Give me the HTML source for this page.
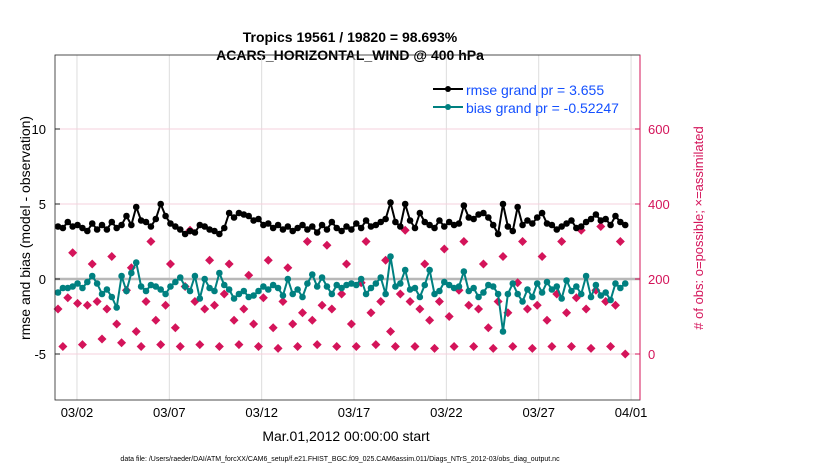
<!DOCTYPE html>
<html><head><meta charset="utf-8"><style>
body{margin:0;background:#fff;width:830px;height:470px;overflow:hidden;font-family:"Liberation Sans",sans-serif}
svg{display:block}
</style></head><body>
<svg id="chart" width="830" height="470" xmlns="http://www.w3.org/2000/svg" font-family="Liberation Sans, sans-serif">
<text x="350" y="42" text-anchor="middle" font-size="14" font-weight="bold">Tropics 19561 / 19820 = 98.693%</text>
<text x="350" y="60" text-anchor="middle" font-size="14" font-weight="bold">ACARS_HORIZONTAL_WIND @ 400 hPa</text>
<g id="grid"></g>
<g id="marks"></g>
<rect x="55" y="55" width="585" height="345" fill="none" stroke="#222" stroke-width="0.8"/>
<g id="axes"></g>
<text transform="translate(30,228) rotate(-90)" text-anchor="middle" font-size="14">rmse and bias (model - observation)</text>
<text transform="translate(703,228) rotate(-90)" text-anchor="middle" font-size="13" fill="#d4145a"># of obs: o=possible; ×=assimilated</text>
<text x="346" y="441" text-anchor="middle" font-size="14">Mar.01,2012 00:00:00 start</text>
<text x="340" y="461" text-anchor="middle" font-size="7">data file: /Users/raeder/DAI/ATM_forcXX/CAM6_setup/f.e21.FHIST_BGC.f09_025.CAM6assim.011/Diags_NTrS_2012-03/obs_diag_output.nc</text>
<g>
<line x1="433" y1="89" x2="463" y2="89" stroke="#000" stroke-width="2"/><circle cx="448" cy="89" r="3" fill="#000"/>
<text x="466" y="95" font-size="14" fill="#1450ff">rmse grand pr = 3.655</text>
<line x1="433" y1="107" x2="463" y2="107" stroke="#008080" stroke-width="2"/><circle cx="448" cy="107" r="3" fill="#008080"/>
<text x="466" y="113" font-size="14" fill="#1450ff">bias grand pr = -0.52247</text>
</g>
</svg>
<script>
const xTickLabels=["03/02","03/07","03/12","03/17","03/22","03/27","04/01"];
const xTickDays=[1,6,11,16,21,26,31];
const leftTicks=[-5,0,5,10];
const rightTicks=[0,200,400,600];
const rmse=[3.5,3.4,3.8,3.5,3.6,3.4,3.2,3.7,3.3,3.6,
3.3,3.8,3.4,3.6,4.2,3.6,4.8,3.9,3.8,3.5,
4.0,5.0,4.2,3.7,3.5,3.3,3.0,3.2,3.1,3.6,
3.5,3.3,3.2,3.0,3.4,4.4,4.1,4.4,4.3,4.2,
3.9,4.0,3.6,3.7,3.4,3.6,3.3,3.5,3.2,3.4,
3.6,3.3,3.5,3.1,3.6,3.3,3.8,3.4,3.2,3.5,
3.3,3.7,3.4,3.9,3.5,3.6,3.8,4.0,5.1,3.8,
3.5,5.0,3.9,3.4,4.4,3.8,3.6,3.4,3.9,3.5,
3.8,3.6,3.7,4.9,4.1,4.0,4.3,4.4,4.1,3.6,
3.0,5.0,3.5,3.2,4.8,3.6,3.9,3.7,4.1,4.4,
3.7,3.6,3.3,3.5,3.7,3.9,3.4,3.5,3.8,4.0,
4.3,3.9,4.0,3.6,4.2,3.8,3.6];
const bias=[-0.9,-0.6,-0.6,-0.5,-0.3,-0.6,-0.2,0.2,-0.3,-1.0,
-0.7,-1.2,-1.9,0.2,-0.8,0.4,1.1,-0.5,-0.8,-0.4,
-0.5,-0.7,-1.0,-0.5,-0.2,0.1,-0.5,-0.8,0.2,-1.3,
0.0,-0.6,-0.8,0.4,-0.4,-0.7,-1.3,-1.0,-0.8,-1.2,
-1.1,-0.8,-0.5,-0.7,-0.4,-0.6,-1.1,0.0,-1.0,-0.7,
-1.2,-0.3,0.3,-0.5,0.1,-0.5,-1.0,-0.4,-0.6,-0.4,
-0.3,-0.4,0.0,-1.0,-0.6,-0.3,0.1,-1.0,1.5,-0.5,
-0.3,0.6,-0.7,-0.6,-1.2,-0.4,0.6,-1.0,-0.8,-0.2,
-0.4,-0.6,-0.5,0.5,-0.8,-0.6,-1.2,-0.9,-0.4,-0.5,
-1.0,-3.5,-1.0,-0.3,-1.0,-1.5,-0.7,-1.2,-0.3,-0.9,
-0.2,-0.7,-0.5,-1.3,-0.1,-0.8,-0.5,-1.0,0.2,-1.2,
-0.4,-1.1,-0.9,-1.4,-0.3,-0.6,-0.3];
const obs=[120,20,150,270,135,25,130,240,140,40,120,260,80,30,170,230,
60,20,140,300,90,25,130,240,70,20,180,330,140,25,120,250,
130,20,160,240,90,25,120,210,80,20,150,250,70,15,140,230,
80,20,110,300,90,25,130,290,120,20,160,240,80,20,190,300,
110,25,140,250,60,20,160,330,140,20,120,240,90,15,140,280,
100,20,170,300,130,20,120,240,70,15,140,260,110,20,190,300,
120,15,130,260,90,20,160,300,110,20,150,330,120,15,170,340,
140,20,130,300,0];
const yL=v=>279-v*15;
const yR=v=>354-v*0.375;
const xDay=d=>58.5+d*18.47;
const xIdx=i=>58+i*4.89;
const NS="http://www.w3.org/2000/svg";
function mk(tag,attrs,parent){const e=document.createElementNS(NS,tag);for(const k in attrs)e.setAttribute(k,attrs[k]);parent.appendChild(e);return e;}
const grid=document.getElementById('grid'),marks=document.getElementById('marks'),axes=document.getElementById('axes');
xTickDays.forEach((d,k)=>{const x=xDay(d);
 const l=mk('line',{x1:x,x2:x,y1:55,y2:400,stroke:'#ddd','stroke-width':1},grid);
 
 
 const t=mk('text',{x:x,y:417,'text-anchor':'middle','font-size':13},axes);t.textContent=xTickLabels[k];
 
 
});
rightTicks.forEach(v=>{const y=yR(v);
 const l=mk('line',{x1:55,x2:640,y1:y,y2:y,stroke:'#f6d0dc','stroke-width':1},grid);
 
 
 const t=mk('text',{x:648,y:y+5,'font-size':13,fill:'#d4145a'},axes);t.textContent=v;
 
 
 mk('line',{x1:635,x2:640,y1:y,y2:y,stroke:'#d4145a'},axes);
});
leftTicks.forEach(v=>{const y=yL(v);
 const t=mk('text',{x:46,y:y+5,'text-anchor':'end','font-size':13},axes);t.textContent=v;
 
 
 mk('line',{x1:55,x2:60,y1:y,y2:y,stroke:'#222'},axes);
});
mk('line',{x1:640,x2:640,y1:55,y2:400,stroke:'#d4145a','stroke-width':1},axes);
const zl=mk('line',{x1:55,x2:640,y1:yL(0),y2:yL(0),stroke:'#b8b8b8','stroke-width':2.5},grid);


obs.forEach((v,i)=>{const x=xIdx(i),y=yR(v);
 const p=mk('path',{d:`M${x} ${y-4.5}L${x+4.5} ${y}L${x} ${y+4.5}L${x-4.5} ${y}Z`,fill:'#d4145a'},marks);
 
 
});
function series(vals,color,name){
 const pl=mk('polyline',{points:vals.map((v,i)=>xIdx(i)+','+yL(v)).join(' '),fill:'none',stroke:color,'stroke-width':2},marks);
 
 
 vals.forEach((v,i)=>{const c=mk('circle',{cx:xIdx(i),cy:yL(v),r:3.3,fill:color},marks);
  
  });
}
series(bias,'#008080','bias');
series(rmse,'#000','rmse');
</script>
</body></html>
